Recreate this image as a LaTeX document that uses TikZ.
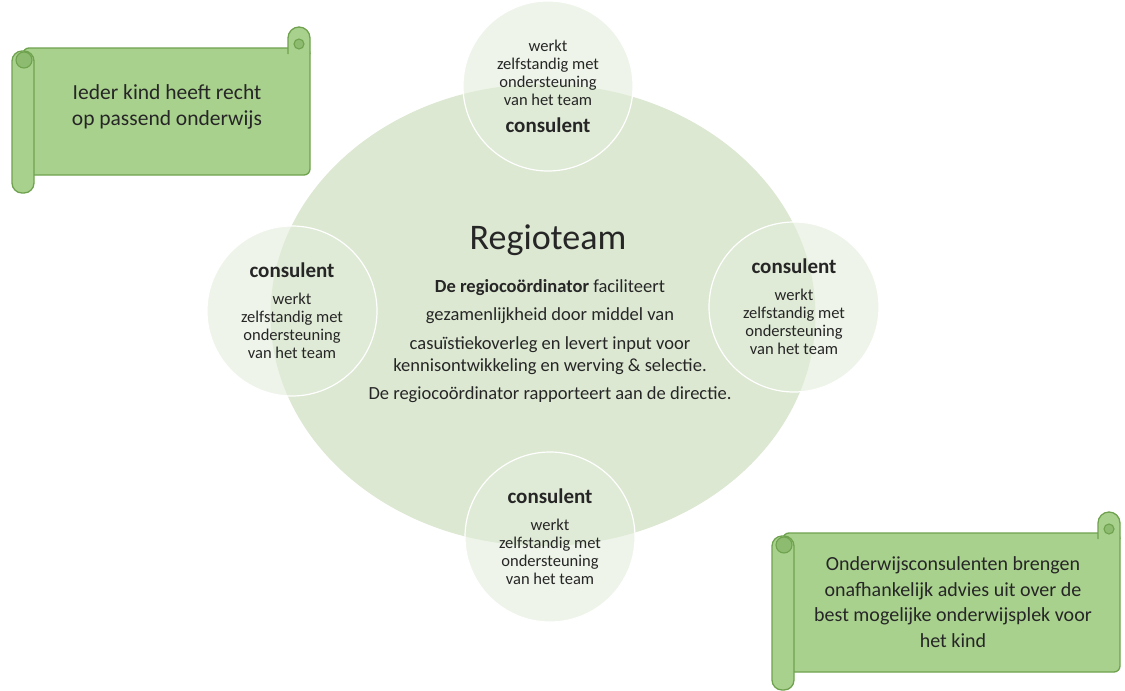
\documentclass[tikz,border=0pt]{standalone}
\usepackage{fontspec}
\setmainfont{Carlito}
\usepackage{tikz}
\usetikzlibrary{positioning,shapes.geometric}
\definecolor{teamgreen}{HTML}{DCE8D2}
\definecolor{consgreen}{HTML}{E2EDDA}
\definecolor{scrollfill}{HTML}{A9D18E}
\definecolor{scrollline}{HTML}{6FA24E}
\definecolor{scrollcurl}{HTML}{8DBB70}
\definecolor{textgray}{HTML}{262626}
\tikzset{
  every node/.style={
    text=textgray
  },
  team/.style={
    ellipse, fill=teamgreen, minimum width=545pt, minimum height=462pt
  },
  consulent/.style={
    circle, fill=consgreen, fill opacity=0.6, text opacity=1,
    draw=white, line width=1.2pt, minimum size=170pt, align=center,
    font=\fontsize{16.5}{18.3}\selectfont
  },
  scroll/.style={
    fill=scrollfill, draw=scrollline, line width=1.3pt, line join=round
  },
  curl/.style={
    fill=scrollcurl, draw=scrollline, line width=1.1pt
  },
  scrolltext/.style={
    align=center, font=\fontsize{20}{25.5}\selectfont
  }
}
% scroll: left, top, right, bottom of the body
\newcommand{\drawscroll}[4]{%
  \filldraw[scroll, rounded corners=6pt] (#1+11,#2) rectangle (#3,#4);
  \filldraw[scroll] (#3-22,#2+6) -- (#3-22,#2-10) arc[start angle=180, end angle=360, radius=11] -- (#3,#2+6);
  \filldraw[curl] (#3-11,#2-4) circle (5);
  \filldraw[scroll, rounded corners=10pt] (#1,#2+3) rectangle (#1+22,#4+18);
  \filldraw[curl] (#1+12,#2+12) circle (8);
}
\newcommand{\bold}[1]{{\fontsize{21}{22}\selectfont\bfseries #1}}

\begin{document}
\begin{tikzpicture}[x=1pt, y=-1pt]
        \useasboundingbox (0,0) rectangle (1125,691);

        \node [team] (Team) at (543,315) {};
        \node [font=\fontsize{36}{40}\selectfont] (Title) at (548,240) {Regioteam};
        \node [align=center, font=\fontsize{18.5}{22}\selectfont] (Body) at (550,341)
          {\textbf{De regiocoördinator} faciliteert\\[6.5pt]
           gezamenlijkheid door middel van\\[6.5pt]
           casuïstiekoverleg en levert input voor\\
           kennisontwikkeling en werving \& selectie.\\[6.5pt]
           De regiocoördinator rapporteert aan de directie.};

        \node [consulent] (CTop) at (548,86)
          {werkt\\zelfstandig met\\ondersteuning\\van het team\\[8pt]\bold{consulent}};
        \node [consulent] (CLeft) at (292,311)
          {\bold{consulent}\\[8pt]werkt\\zelfstandig met\\ondersteuning\\van het team};
        \node [consulent] (CRight) at (794,307)
          {\bold{consulent}\\[8pt]werkt\\zelfstandig met\\ondersteuning\\van het team};
        \node [consulent] (CBottom) at (550,537)
          {\bold{consulent}\\[8pt]werkt\\zelfstandig met\\ondersteuning\\van het team};

        \drawscroll{12}{48}{310}{175}
        \node [scrolltext, font=\fontsize{21.5}{26}\selectfont] (Recht) at (167,107) {Ieder kind heeft recht\\op passend onderwijs};

        \drawscroll{772}{533}{1120}{672}
        \node [scrolltext] (Advies) at (953,602)
          {Onderwijsconsulenten brengen\\onafhankelijk advies uit over de\\best mogelijke onderwijsplek voor\\het kind};
      \end{tikzpicture}
\end{document}
